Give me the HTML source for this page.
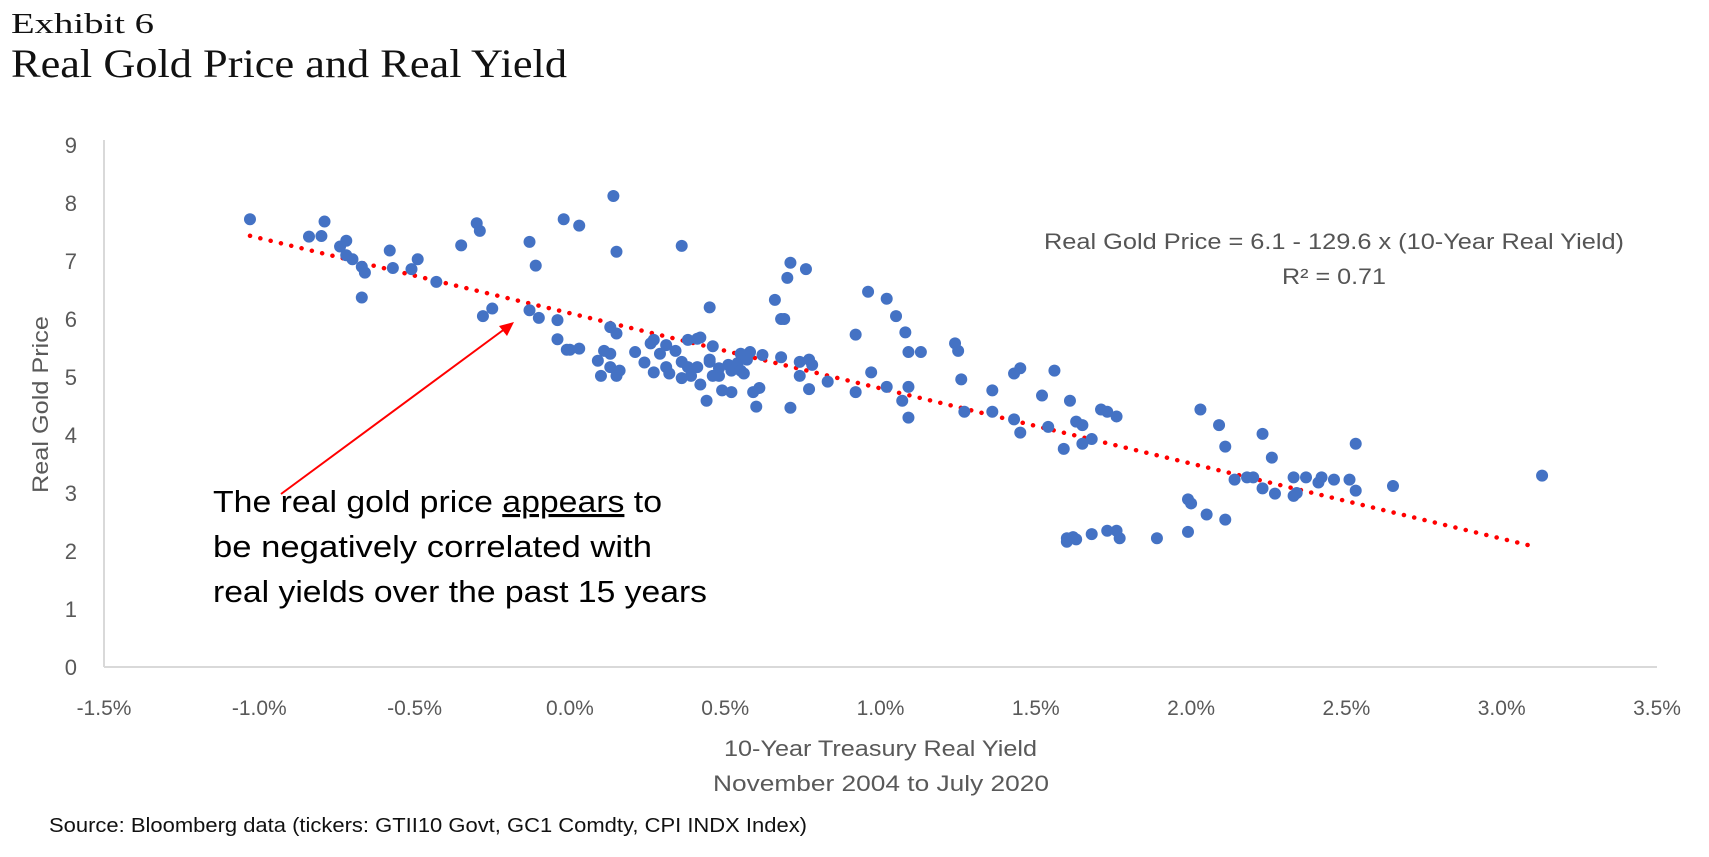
<!DOCTYPE html>
<html><head><meta charset="utf-8"><style>
html,body{margin:0;padding:0;background:#fff;width:1709px;height:857px;overflow:hidden}
svg{display:block}
</style></head><body>
<svg id="chart" width="1709" height="857">
<text x="11" y="33" textLength="143" lengthAdjust="spacingAndGlyphs" font-family="Liberation Serif, serif" font-size="29" fill="#111">Exhibit 6</text>
<text x="11" y="77" textLength="556" lengthAdjust="spacingAndGlyphs" font-family="Liberation Serif, serif" font-size="40" fill="#111">Real Gold Price and Real Yield</text>
<g id="axes"></g>
<g id="trend"></g>
<g id="dots"></g>
<text x="1044" y="249" textLength="580" lengthAdjust="spacingAndGlyphs" font-family="Liberation Sans, sans-serif" font-size="22" fill="#555">Real Gold Price = 6.1 - 129.6 x (10-Year Real Yield)</text>
<text x="1282" y="284" textLength="104" lengthAdjust="spacingAndGlyphs" font-family="Liberation Sans, sans-serif" font-size="22" fill="#555">R² = 0.71</text>
<g>
<line x1="281" y1="494" x2="506" y2="328" stroke="#f00" stroke-width="2"/>
<polygon points="514,322 499,326 507,336" fill="#f00"/>
</g>
<g font-family="Liberation Sans, sans-serif" font-size="31" fill="#000">
<text x="213" y="512" textLength="449" lengthAdjust="spacingAndGlyphs">The real gold price <tspan text-decoration="underline">appears</tspan> to</text>
<text x="213" y="557" textLength="439" lengthAdjust="spacingAndGlyphs">be negatively correlated with</text>
<text x="213" y="602" textLength="494" lengthAdjust="spacingAndGlyphs">real yields over the past 15 years</text>
</g>
<text x="724" y="756" textLength="313" lengthAdjust="spacingAndGlyphs" font-family="Liberation Sans, sans-serif" font-size="22" fill="#595959">10-Year Treasury Real Yield</text>
<text x="713" y="791" textLength="336" lengthAdjust="spacingAndGlyphs" font-family="Liberation Sans, sans-serif" font-size="22" fill="#595959">November 2004 to July 2020</text>
<text transform="translate(48,405) rotate(-90)" x="-88" y="0" textLength="177" lengthAdjust="spacingAndGlyphs" font-family="Liberation Sans, sans-serif" font-size="22" fill="#595959">Real Gold Price</text>
<text x="49" y="832" textLength="758" lengthAdjust="spacingAndGlyphs" font-family="Liberation Sans, sans-serif" font-size="20" fill="#111">Source: Bloomberg data (tickers: GTII10 Govt, GC1 Comdty, CPI INDX Index)</text>
</svg>
<script>
const xTicks=[-1.5,-1.0,-0.5,0.0,0.5,1.0,1.5,2.0,2.5,3.0,3.5];
const yTicks=[0,1,2,3,4,5,6,7,8,9];
const yieldX=[-1.03,-0.84,-0.80,-0.79,-0.74,-0.72,-0.72,-0.70,-0.67,-0.66,-0.67,-0.58,-0.57,-0.51,-0.49,-0.43,-0.35,-0.30,-0.29,-0.28,-0.25,-0.13,-0.11,-0.13,-0.10,-0.04,-0.02,0.03,-0.04,-0.01,0.0,0.03,0.14,0.15,0.09,0.11,0.13,0.10,0.13,0.15,0.13,0.15,0.16,0.36,0.45,
0.21,0.24,0.26,0.27,0.27,0.31,0.32,0.29,0.31,0.34,0.36,0.36,0.38,0.41,0.42,0.39,0.41,0.42,0.45,0.45,0.46,0.48,0.48,0.49,0.44,0.51,0.52,0.54,0.55,0.55,0.56,0.57,0.58,0.59,0.60,0.61,0.62,0.52,0.46,0.38,
0.66,0.68,0.69,0.70,0.71,0.76,0.68,0.71,0.74,0.74,0.77,0.78,0.77,0.83,0.92,0.92,0.96,0.97,1.02,1.02,1.05,1.08,1.09,1.13,1.07,1.09,1.09,
1.24,1.25,1.26,1.27,1.36,1.36,1.43,1.45,1.43,1.45,1.52,1.54,1.56,1.59,1.61,1.63,1.65,1.65,1.68,1.71,1.73,1.76,
1.60,1.60,1.62,1.63,1.68,1.73,1.76,1.77,1.89,1.99,1.99,2.00,2.05,2.11,
2.03,2.09,2.11,2.23,2.26,2.14,2.18,2.20,2.23,2.27,2.33,2.33,2.34,2.37,2.41,2.42,2.46,2.51,2.53,2.53,2.65,3.13];
const goldY=[7.72,7.42,7.43,7.68,7.25,7.35,7.1,7.03,6.9,6.8,6.37,7.18,6.88,6.86,7.03,6.64,7.27,7.65,7.52,6.05,6.18,7.33,6.92,6.15,6.02,5.98,7.72,7.61,5.65,5.47,5.47,5.49,8.12,7.16,5.28,5.45,5.4,5.02,5.17,5.02,5.86,5.75,5.11,7.26,6.2,
5.43,5.25,5.58,5.64,5.08,5.17,5.06,5.4,5.55,5.45,4.98,5.26,5.64,5.66,5.68,5.02,5.17,4.87,5.26,5.3,5.53,5.15,5.02,4.77,4.59,5.21,5.11,5.24,5.4,5.11,5.06,5.3,5.43,4.74,4.49,4.81,5.38,4.74,5.02,5.17,
6.33,6.0,6.0,6.71,6.97,6.86,5.34,4.47,5.02,5.26,5.3,5.21,4.79,4.92,5.73,4.74,6.47,5.08,6.35,4.83,6.05,5.77,5.43,5.43,4.59,4.83,4.3,
5.58,5.45,4.96,4.4,4.77,4.4,5.06,5.15,4.27,4.04,4.68,4.14,5.11,3.76,4.59,4.23,4.17,3.85,3.93,4.44,4.4,4.32,
2.22,2.16,2.24,2.2,2.29,2.35,2.35,2.22,2.22,2.33,2.89,2.82,2.63,2.54,
4.44,4.17,3.8,4.02,3.61,3.23,3.27,3.27,3.08,2.99,3.27,2.95,3.0,3.27,3.18,3.27,3.23,3.23,3.85,3.04,3.12,3.3];
const trendIntercept=6.1, trendSlope=-129.6, trendRange=[-1.03,3.1];

const NS='http://www.w3.org/2000/svg';
const X0=104,X1=1657,Y0=667,Y1=145;
const xs=v=>X0+(v-(-1.5))/5*(X1-X0);
const ys=v=>Y0-(v/9)*(Y0-Y1);
function mk(tag,attrs,parent){const e=document.createElementNS(NS,tag);for(const k in attrs)e.setAttribute(k,attrs[k]);parent.appendChild(e);return e;}
const axes=document.getElementById('axes');
let a=mk('line',{x1:X0,y1:Y1-5,x2:X0,y2:Y0,stroke:'#d9d9d9','stroke-width':2},axes);


a=mk('line',{x1:X0,y1:Y0,x2:X1,y2:Y0,stroke:'#d9d9d9','stroke-width':2},axes);


xTicks.forEach(t=>{
  const e=mk('text',{x:xs(t),y:715,'text-anchor':'middle','font-family':'Liberation Sans, sans-serif','font-size':21,fill:'#595959'},axes);
  e.textContent=t.toFixed(1)+'%';
  
  
});
yTicks.forEach(t=>{
  const e=mk('text',{x:77,y:ys(t)+8,'text-anchor':'end','font-family':'Liberation Sans, sans-serif','font-size':22,fill:'#595959'},axes);
  e.textContent=t;
  
  
});
const tr=document.getElementById('trend');
const tl=mk('line',{x1:xs(trendRange[0]),y1:ys(trendIntercept+trendSlope*trendRange[0]/100),x2:xs(trendRange[1]),y2:ys(trendIntercept+trendSlope*trendRange[1]/100),stroke:'#ff0000','stroke-width':4.5,'stroke-linecap':'round','stroke-dasharray':'0.1 10.5'},tr);


const dots=document.getElementById('dots');
yieldX.forEach((x,i)=>{
  const c=mk('circle',{cx:xs(x),cy:ys(goldY[i]),r:6,fill:'#4472c4'},dots);
  
  
});
</script>
</body></html>
